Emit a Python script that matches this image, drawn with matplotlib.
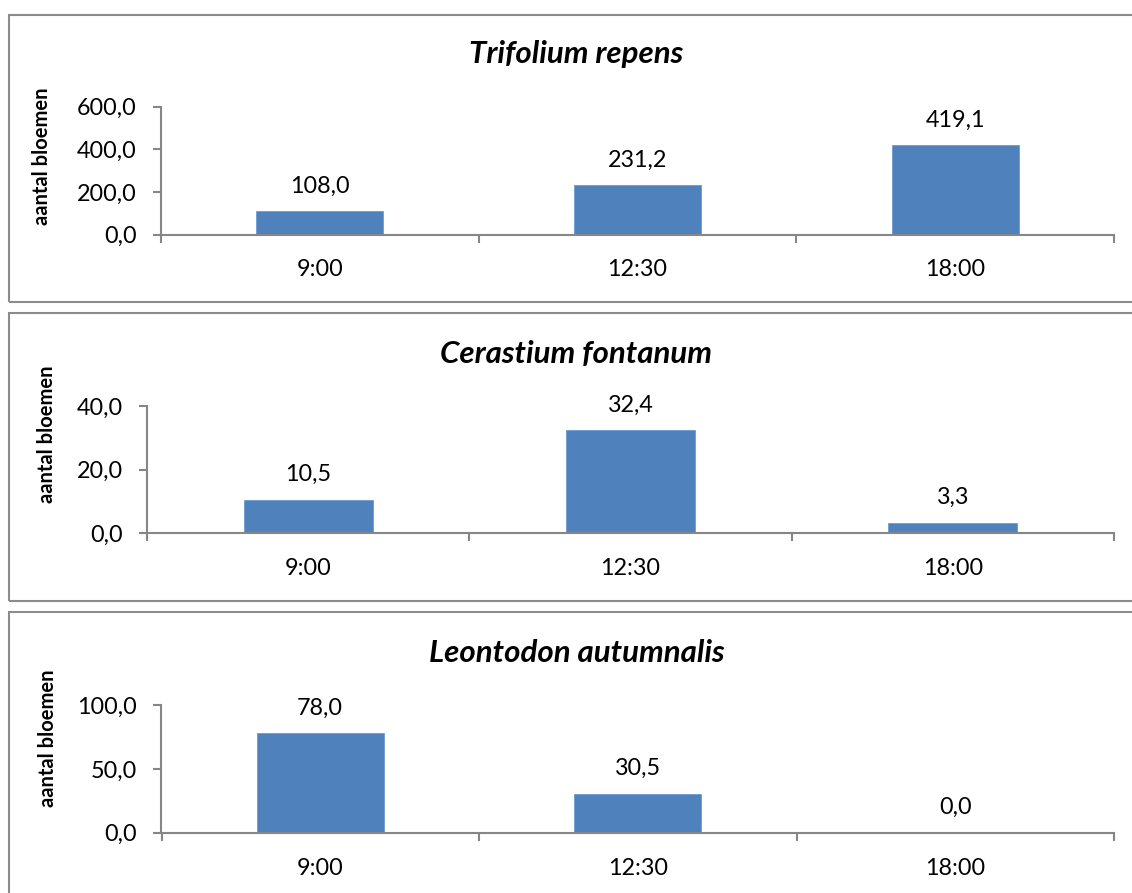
import matplotlib
matplotlib.use("Agg")
import matplotlib.pyplot as plt
from matplotlib.patches import Rectangle
from matplotlib.ticker import FixedLocator, NullFormatter

plt.rcParams['font.family'] = ['Lato', 'DejaVu Sans']

# Data
times = ["9:00", "12:30", "18:00"]
species = ["Trifolium repens", "Cerastium fontanum", "Leontodon autumnalis"]
trifolium = [108.0, 231.2, 419.1]
cerastium = [10.5, 32.4, 3.3]
leontodon = [78.0, 30.5, 0.0]
y_ticks = [[0, 200, 400, 600], [0, 20, 40], [0, 50, 100]]
ylabel = "aantal bloemen"

series = [trifolium, cerastium, leontodon]

W, H = 1132, 893
fig = plt.figure(figsize=(W / 100, H / 100), dpi=100)
fig.patch.set_facecolor("white")

BAR = "#4F81BD"
AXC = "#868686"
FRAME = "#8C8C8C"
FS = 16.8

# layout in pixels: (frame top, frame bottom, axes left, axes right, axes top, axes bottom, title baseline, ylabel x, ylabel y)
panels = [
    (15, 301.5, 161, 1114, 106.7, 234.5, 63, 42, 156),
    (313, 600.5, 147, 1114, 406, 533.3, 363, 47, 434),
    (612.5, 905, 161.5, 1114, 705, 832.7, 662, 48, 738),
]


def px(x, y):
    return x / W, 1 - y / H


def fmt(v):
    return f"{v:.1f}".replace(".", ",")


for i, (ft, fb, al, ar, at, ab, tb, lx, ly) in enumerate(panels):
    # panel frame
    fx, fy = px(8.5, fb)
    fig.add_artist(Rectangle((fx, fy), (1150 - 8.5) / W, (fb - ft) / H,
                             transform=fig.transFigure, fill=False,
                             ec=FRAME, lw=1.5, zorder=0))

    ax = fig.add_axes([al / W, 1 - ab / H, (ar - al) / W, (ab - at) / H])
    vals = series[i]
    xs = list(range(len(times)))
    ax.bar(xs, vals, width=0.4, color=BAR, edgecolor="#6F9AD0", linewidth=0.6, zorder=2)
    ax.set_xlim(-0.5, len(times) - 0.5)
    ax.set_ylim(y_ticks[i][0], y_ticks[i][-1])

    for s in ("top", "right"):
        ax.spines[s].set_visible(False)
    for s in ("left", "bottom"):
        ax.spines[s].set_color(AXC)
        ax.spines[s].set_linewidth(1.5)
    ax.spines["bottom"].set_zorder(3)

    ax.set_yticks(y_ticks[i])
    ax.set_yticklabels([fmt(t) for t in y_ticks[i]])
    ax.tick_params(axis="y", direction="out", length=6, width=1.5, color=AXC,
                   pad=11.5, labelsize=FS)

    # category boundaries carry the ticks, centres carry the labels
    ax.xaxis.set_major_locator(FixedLocator([-0.5, 0.5, 1.5, 2.5]))
    ax.xaxis.set_major_formatter(NullFormatter())
    ax.xaxis.set_minor_locator(FixedLocator(xs))
    ax.set_xticklabels(times, minor=True)
    ax.tick_params(axis="x", which="major", direction="out", length=6, width=1.5, color=AXC)
    ax.tick_params(axis="x", which="minor", length=0, pad=18, labelsize=FS)

    for x, v in zip(xs, vals):
        ax.annotate(fmt(v), (x, v), xytext=(0, 13.5), textcoords="offset points",
                    ha="center", va="baseline", fontsize=FS)

    # title and y label
    tx, ty = px(576.5, tb)
    fig.text(tx, ty, species[i], ha="center", va="baseline", fontsize=22.5,
             fontweight="bold", fontstyle="italic")
    yx, yy = px(lx, ly)
    fig.text(yx, yy, ylabel, ha="center", va="center", rotation=90,
             fontsize=14.5, fontweight="bold")

fig.savefig("out.png", dpi=100, facecolor="white")
